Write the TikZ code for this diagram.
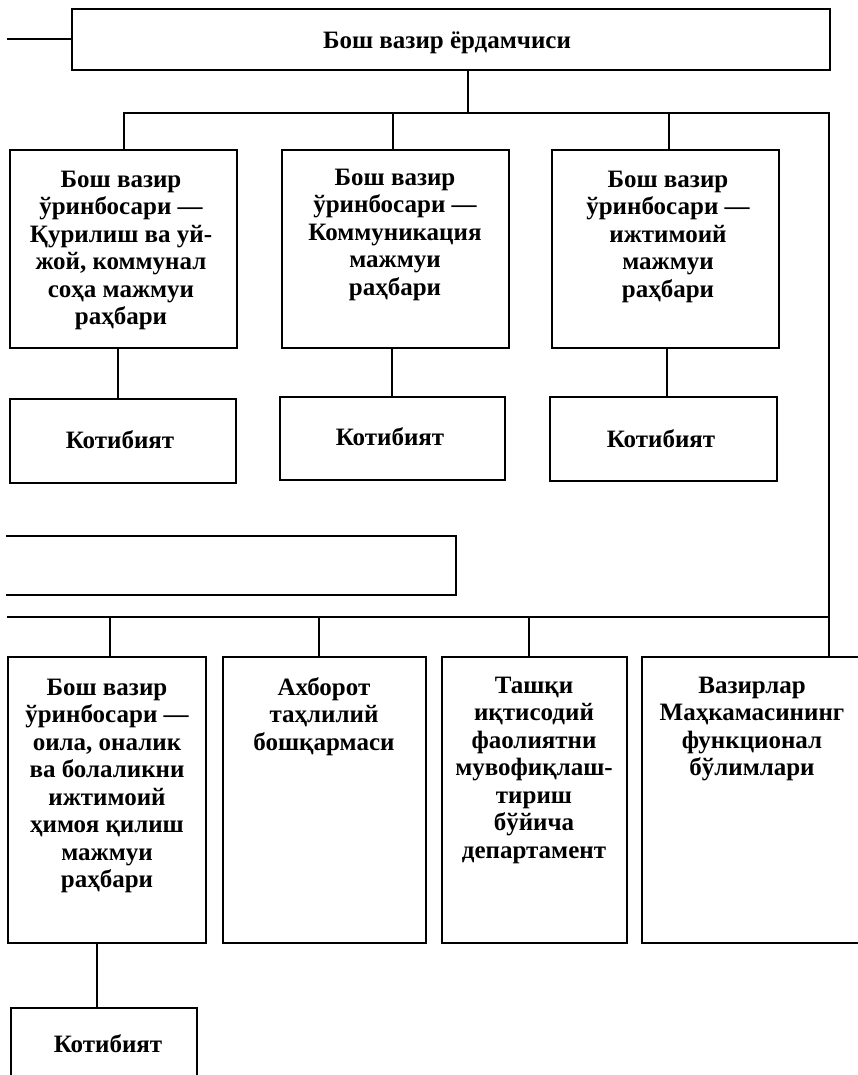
\documentclass[tikz,border=0pt]{standalone}
\usepackage{fontspec}
\setmainfont{Liberation Serif}
\usetikzlibrary{fit}
\newcommand\firstln{\rule{0pt}{22pt}}
\begin{document}
\begin{tikzpicture}[x=1pt,y=-1pt,
  box/.style={draw, line width=2.4pt, inner sep=0pt, outer sep=0pt},
  conn/.style={line width=2pt},
  txt/.style={align=center, inner sep=0pt, anchor=north, font=\bfseries\fontsize{25}{27.5}\selectfont}]
\useasboundingbox (0,0) rectangle (858,1075);
\begin{scope}
\clip (6,-2) rectangle (860,1077);
% boxes
\node[box, fit={(72,9) (830,70)}] (top) {};
\node[box, fit={(10,150) (237,348)}] (A) {};
\node[box, fit={(282,150) (509,348)}] (B) {};
\node[box, fit={(552,150) (779,348)}] (C) {};
\node[box, fit={(10,399) (236,483)}] (kA) {};
\node[box, fit={(280,397) (505,480)}] (kB) {};
\node[box, fit={(550,397) (777,481)}] (kC) {};
\node[box, fit={(-20,536) (456,595)}] (mid) {};
\node[box, fit={(8,657) (206,943)}] (D) {};
\node[box, fit={(223,657) (426,943)}] (E) {};
\node[box, fit={(442,657) (627,943)}] (F) {};
\node[box, fit={(642,657) (890,943)}] (G) {};
\node[box, fit={(11,1008) (197,1100)}] (kD) {};
% texts
\node[txt] (tTop) at (447,26) {\firstln Бош вазир ёрдамчиси};
\node[txt] (tA) at (121,165) {\firstln Бош вазир\\ўринбосари —\\Қурилиш ва уй-\\жой, коммунал\\соҳа мажмуи\\раҳбари};
\node[txt] (tB) at (395,163) {\firstln Бош вазир\\ўринбосари —\\Коммуникация\\мажмуи\\раҳбари};
\node[txt] (tC) at (668,165) {\firstln Бош вазир\\ўринбосари —\\ижтимоий\\мажмуи\\раҳбари};
\node[txt] (tkA) at (120,426) {\firstln Котибият};
\node[txt] (tkB) at (390,423) {\firstln Котибият};
\node[txt] (tkC) at (661,425) {\firstln Котибият};
\node[txt] (tD) at (107,673) {\firstln Бош вазир\\ўринбосари —\\оила, оналик\\ва болаликни\\ижтимоий\\ҳимоя қилиш\\мажмуи\\раҳбари};
\node[txt] (tE) at (324,673) {\firstln Ахборот\\таҳлилий\\бошқармаси};
\node[txt] (tF) at (534,671) {\firstln Ташқи\\иқтисодий\\фаолиятни\\мувофиқлаш-\\тириш\\бўйича\\департамент};
\node[txt] (tG) at (752,671) {\firstln Вазирлар\\Маҳкамасининг\\функционал\\бўлимлари};
\node[txt] (tkD) at (108,1030) {\firstln Котибият};
% connector coordinates
\coordinate (stub) at (7,39);
\coordinate (j0) at (468,113);
\coordinate (bar1L) at (124,113);
\coordinate (bar1R) at (829,113);
\coordinate (jB) at (393,113);
\coordinate (jC) at (669,113);
\coordinate (xA) at (118,0);
\coordinate (xB) at (392,0);
\coordinate (xC) at (667,0);
\coordinate (bar2L) at (7,617);
\coordinate (jD) at (110,617);
\coordinate (jE) at (319,617);
\coordinate (jF) at (529,617);
\coordinate (xD) at (97,0);
% connectors
\draw[conn] (stub) -- (stub -| top.west);
\draw[conn] (top.south -| j0) -- (j0);
\draw[conn] (bar1L |- A.north) -- (bar1L) -- (bar1R) -- (bar1R |- G.north);
\draw[conn] (jB) -- (jB |- B.north);
\draw[conn] (jC) -- (jC |- C.north);
\draw[conn] (A.south -| xA) -- (kA.north -| xA);
\draw[conn] (B.south -| xB) -- (kB.north -| xB);
\draw[conn] (C.south -| xC) -- (kC.north -| xC);
\draw[conn] (bar2L) -- (bar2L -| bar1R);
\draw[conn] (jD) -- (jD |- D.north);
\draw[conn] (jE) -- (jE |- E.north);
\draw[conn] (jF) -- (jF |- F.north);
\draw[conn] (D.south -| xD) -- (kD.north -| xD);
\end{scope}
\end{tikzpicture}
\end{document}
